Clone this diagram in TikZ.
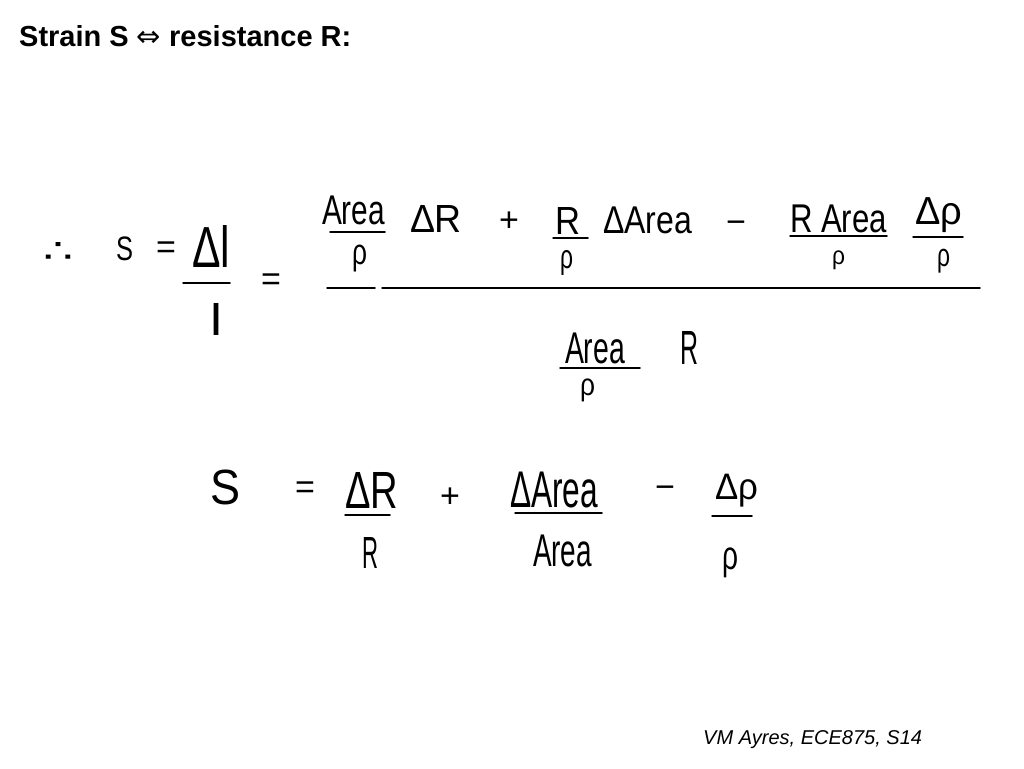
\documentclass[tikz,border=0pt]{standalone}
\usepackage{fontspec}
\usepackage{graphicx}
\setmainfont{Liberation Sans}
\newfontfamily\dejavu{DejaVu Sans}
\tikzset{
  hw/.style={inner sep=0pt, outer sep=0pt, anchor=north west},
  op/.style={inner sep=0pt, outer sep=0pt, anchor=center, font=\fontsize{34}{34}\selectfont},
  bar/.style={line width=1.5pt, line cap=round},
}
\newcommand{\hwn}[6]{\node[hw] (#1) at (#2,#3) {\resizebox*{#4pt}{#5pt}{#6}};}
\begin{document}
\begin{tikzpicture}[x=1pt,y=-1pt]
\useasboundingbox (0,0) rectangle (1024,768);
% title
\node[inner sep=0pt, anchor=base west, font=\fontsize{29}{29}\selectfont\bfseries] (title) at (19,46) {Strain S {\dejavu\mdseries ⇔} resistance R:};
% footer
\node[inner sep=0pt, anchor=base west, font=\fontsize{20}{20}\selectfont\itshape] (foot) at (703,744) {VM Ayres, ECE875, S14};
% ---- equation 1 ----
\hwn{there}{43}{242}{30}{20}{{\dejavu ∴}}
\hwn{S1}{116}{237}{17}{24}{S}
\node[op] (eq1) at (166,250) {=};
\hwn{dl}{192}{225}{38}{42}{Δl}
\draw[bar] (183,283) -- (230,283);
\hwn{l1}{210}{303}{12}{32}{l}
\node[op] (eq2) at (271,282) {=};
\hwn{areaA}{322}{196}{63}{29}{Area}
\draw[bar] (330,232) -- (385,232);
\hwn{rhoA}{352}{245}{15}{27}{ρ}
\hwn{dR}{410}{205}{52}{27}{ΔR}
\node[op] (plus1) at (509,222) {+};
\hwn{RB}{555}{207}{25}{27}{R}
\draw[bar] (553,238) -- (588,238);
\hwn{rhoB}{560}{250}{13}{25}{ρ}
\hwn{dArea}{603}{207}{89}{27}{ΔArea}
\node[op] (minus1) at (736,227) {−};
\hwn{RArea}{790}{205}{97}{28}{R Area}
\draw[bar] (790,236) -- (887,236);
\hwn{rhoC}{832}{251}{13}{19}{ρ}
\hwn{drho}{915}{198}{47}{35}{Δρ}
\draw[bar] (913,237) -- (963,237);
\hwn{rhoD}{937}{249}{13}{24}{ρ}
% main fraction bar
\draw[bar] (327,288) -- (375,288);
\draw[bar] (382,288) -- (980,288);
% denominator
\hwn{areaE}{565}{333}{60}{31}{Area}
\draw[bar] (560,368) -- (640,368);
\hwn{rhoE}{580}{379}{15}{23}{ρ}
\hwn{RE}{680}{331}{18}{33}{R}
% ---- equation 2 ----
\hwn{S2}{210}{470}{30}{35}{S}
\node[op] (eq3) at (305,490) {=};
\hwn{dR2}{345}{472}{53}{36}{ΔR}
\draw[bar] (345,515) -- (390,515);
\hwn{R2}{362}{537}{16}{31}{R}
\node[op] (plus2) at (450,498) {+};
\hwn{dArea2}{510}{472}{88}{36}{ΔArea}
\draw[bar] (515,513) -- (602,513);
\hwn{Area2}{533}{535}{59}{32}{Area}
\node[op] (minus2) at (665,492) {−};
\hwn{drho2}{715}{474}{43}{33}{Δρ}
\draw[bar] (712,516) -- (752,516);
\hwn{rho2}{722}{548}{16}{30}{ρ}
\end{tikzpicture}
\end{document}
